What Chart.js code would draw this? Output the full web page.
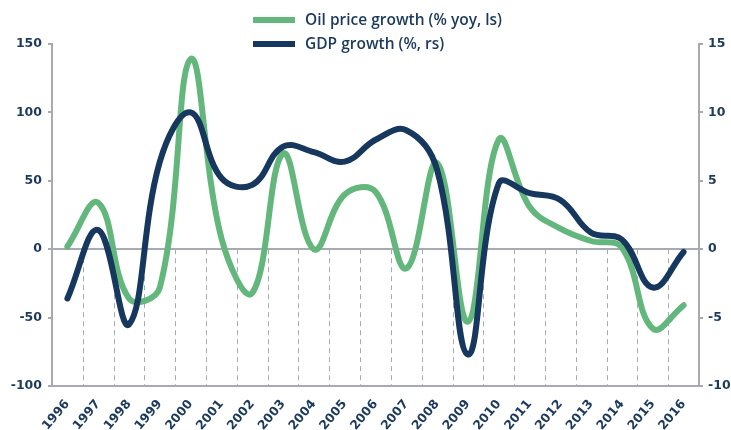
<!DOCTYPE html>
<html>
<head>
<meta charset="utf-8">
<script src="https://cdn.jsdelivr.net/npm/chart.js@4.4.1/dist/chart.umd.min.js"></script>
<style>
  html, body { margin: 0; padding: 0; background: #fff; }
</style>
</head>
<body>
<canvas id="growthChart" width="731" height="430"></canvas>
<script>
const years = ['1996', '1997', '1998', '1999', '2000', '2001', '2002', '2003', '2004', '2005', '2006',
               '2007', '2008', '2009', '2010', '2011', '2012', '2013', '2014', '2015', '2016'];

// oil price growth, % yoy (left scale)
const oilGrowth = [2, 34, -36, -28, 139, 8, -32, 70, 0, 40, 42, -14, 63, -53, 80, 31, 15, 6, 1, -58, -41];

// GDP growth, % (right scale)
const gdpGrowth = [-3.6, 1.4, -5.5, 6.4, 10.0, 5.2, 4.7, 7.5, 7.1, 6.4, 8.0, 8.7, 5.8, -7.7, 4.8, 4.1, 3.6, 1.2, 0.7, -2.8, -0.2];

const leftTicks = [-100, -50, 0, 50, 100, 150];
const rightTicks = [-10, -5, 0, 5, 10, 15];

const green = '#63b77c';
const navy = '#16375e';
const grey = '#a7aab3';
const textCol = '#1b3a5e';
const fontFam = '"DejaVu Sans", sans-serif';

// dashed drop lines between the years, only under zero
const dropLines = {
  id: 'dropLines',
  beforeDatasetsDraw(chart) {
    const ctx = chart.ctx;
    const xs = chart.scales.x;
    const zero = chart.scales.y.getPixelForValue(0);
    ctx.save();
    ctx.strokeStyle = grey;
    ctx.lineWidth = 1;
    ctx.setLineDash([5, 4]);
    for (let i = 1; i < years.length; i++) {
      const px = Math.round((xs.getPixelForValue(i - 1) + xs.getPixelForValue(i)) / 2) + 0.5;
      ctx.beginPath();
      ctx.moveTo(px, zero);
      ctx.lineTo(px, chart.chartArea.bottom);
      ctx.stroke();
    }
    ctx.restore();
  }
};

// legend stacked in two rows
const stackedLegend = {
  id: 'stackedLegend',
  afterDraw(chart) {
    const ctx = chart.ctx;
    const sets = chart.data.datasets;
    ctx.save();
    ctx.font = '600 15.5px "Open Sans", sans-serif';
    let widest = 0;
    sets.forEach(d => { widest = Math.max(widest, ctx.measureText(d.label).width); });
    const boxW = 42, gap = 10;
    const mid = (chart.chartArea.left + chart.chartArea.right) / 2;
    const x0 = mid - (boxW + gap + widest) / 2 + 2;
    sets.forEach((d, i) => {
      const yy = 20 + i * 24;
      ctx.fillStyle = d.borderColor;
      ctx.fillRect(x0, yy - 3, boxW, 6);
      ctx.fillStyle = textCol;
      ctx.textBaseline = 'middle';
      ctx.textAlign = 'left';
      ctx.fillText(d.label, x0 + boxW + gap, yy + 1);
    });
    ctx.restore();
  }
};

const tickFont = { family: fontFam, size: 12.5, weight: 'bold' };

new Chart(document.getElementById('growthChart'), {
  type: 'line',
  data: {
    labels: years,
    datasets: [{
      label: 'Oil price growth (% yoy, ls)',
      data: oilGrowth,
      yAxisID: 'y',
      borderColor: green,
      backgroundColor: green,
      borderWidth: 6,
      tension: 0.4,
      pointRadius: 0,
      borderCapStyle: 'round',
      borderJoinStyle: 'round',
      order: 1
    },
    {
      label: 'GDP growth (%, rs)',
      data: gdpGrowth,
      yAxisID: 'y1',
      borderColor: navy,
      backgroundColor: navy,
      borderWidth: 6,
      tension: 0.4,
      pointRadius: 0,
      borderCapStyle: 'round',
      borderJoinStyle: 'round',
      order: 0
    }]
  },
  options: {
    responsive: false,
    animation: false,
    layout: { padding: { top: 44, left: 0, right: 0, bottom: 0 } },
    plugins: {
      legend: { display: false },
      tooltip: { enabled: false }
    },
    scales: {
      x: {
        offset: true,
        grid: { display: false },
        border: { display: true, color: grey, width: 2 },
        ticks: {
          color: textCol,
          font: tickFont,
          minRotation: 50,
          maxRotation: 50,
          padding: 3,
          autoSkip: false
        },
        afterFit(s) { s.height = 44; }
      },
      y: {
        position: 'left',
        min: leftTicks[0],
        max: leftTicks[leftTicks.length - 1],
        ticks: { stepSize: 50, color: textCol, font: tickFont, padding: 6 },
        grid: {
          color: c => (c.tick && c.tick.value === 0) ? grey : 'rgba(0,0,0,0)',
          tickColor: grey,
          tickLength: 4,
          lineWidth: 2
        },
        border: { display: true, color: grey, width: 2 },
        afterFit(s) { s.width = 52; }
      },
      y1: {
        position: 'right',
        min: rightTicks[0],
        max: rightTicks[rightTicks.length - 1],
        ticks: { stepSize: 5, color: textCol, font: tickFont, padding: 5 },
        grid: { drawOnChartArea: false, tickColor: grey, tickLength: 4, lineWidth: 2 },
        border: { display: true, color: grey, width: 2 },
        afterFit(s) { s.width = 32; }
      }
    }
  },
  plugins: [dropLines, stackedLegend]
});
</script>
</body>
</html>
